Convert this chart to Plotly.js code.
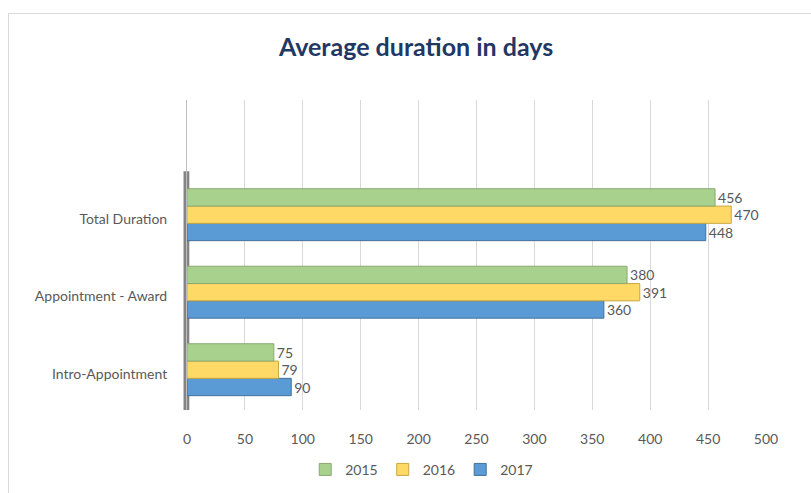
<!DOCTYPE html>
<html>
<head>
<meta charset="utf-8">
<script src="https://cdn.plot.ly/plotly-3.0.1.min.js"></script>
<style>
  html, body { margin: 0; padding: 0; background: #fff; overflow: hidden; }
  #chart { width: 811px; height: 493px; }
  #frame { position: absolute; left: 8px; top: 13px; width: 830px; height: 510px;
           border: 1.5px solid #d9d9d9; pointer-events: none; }
</style>
</head>
<body>
<div id="chart"></div>
<div id="frame"></div>
<script>
const categories = ["Intro-Appointment", "Appointment - Award", "Total Duration"];
const years = ["2015", "2016", "2017"];
const values2015 = [75, 380, 456];
const values2016 = [79, 391, 470];
const values2017 = [90, 360, 448];
const xTicks = [0, 50, 100, 150, 200, 250, 300, 350, 400, 450, 500];

const colors = { "2015": "#a9d18e", "2016": "#ffd966", "2017": "#5b9bd5" };
const edges  = { "2015": "#8aa873", "2016": "#c9a83f", "2017": "#41719c" };
const series = { "2015": values2015, "2016": values2016, "2017": values2017 };

const font = "Lato, 'Open Sans', sans-serif";
const traces = ["2017", "2016", "2015"].map(y => ({
  type: "bar",
  orientation: "h",
  name: y,
  x: series[y],
  y: categories,
  text: series[y].map(String),
  textposition: "outside",
  cliponaxis: false,
  textfont: { family: font, size: 14, color: "#595959" },
  marker: { color: colors[y], line: { color: edges[y], width: 1 } },
  hoverinfo: "x+name"
}));

const layout = {
  width: 811, height: 493,
  margin: { l: 187, r: 45, t: 100, b: 83 },
  paper_bgcolor: "#fff", plot_bgcolor: "#fff",
  barmode: "group", bargap: 0.33, bargroupgap: 0,
  title: {
    text: "<b>Average duration in days</b>",
    font: { family: font, size: 25, color: "#1f3864" },
    x: 0.513, xref: "container", xanchor: "center",
    y: 0.905, yref: "container", yanchor: "middle"
  },
  xaxis: {
    range: [0, 500], tickvals: xTicks, ticktext: xTicks.map(String),
    showgrid: true, gridcolor: "#d9d9d9", gridwidth: 1,
    zeroline: false, showline: false,
    ticks: "outside", ticklen: 16, tickcolor: "rgba(0,0,0,0)",
    tickfont: { family: font, size: 14, color: "#595959" }, fixedrange: true
  },
  yaxis: {
    type: "category", categoryorder: "array", categoryarray: categories,
    range: [-0.52, 3.48],
    showgrid: false, zeroline: false,
    showline: true, linecolor: "#bfbfbf", linewidth: 1,
    ticks: "outside", ticklen: 16, tickcolor: "rgba(0,0,0,0)",
    ticklabelshift: 4,
    tickfont: { family: font, size: 14, color: "#595959" }, fixedrange: true
  },
  shapes: [{
    type: "rect", xref: "paper", yref: "paper",
    x0: -0.006, x1: 0.004, y0: 0, y1: 0.77,
    fillcolor: "#6f6f6f", line: { width: 0 }, layer: "below", opacity: 0.85
  }],
  legend: {
    orientation: "h", traceorder: "reversed",
    x: 0.52, xref: "container", xanchor: "center",
    y: 0.047, yref: "container", yanchor: "middle",
    font: { family: font, size: 14, color: "#595959" },
    itemwidth: 30
  },
  showlegend: true
};

Plotly.newPlot("chart", traces, layout, { displayModeBar: false, staticPlot: true });
</script>
</body>
</html>
